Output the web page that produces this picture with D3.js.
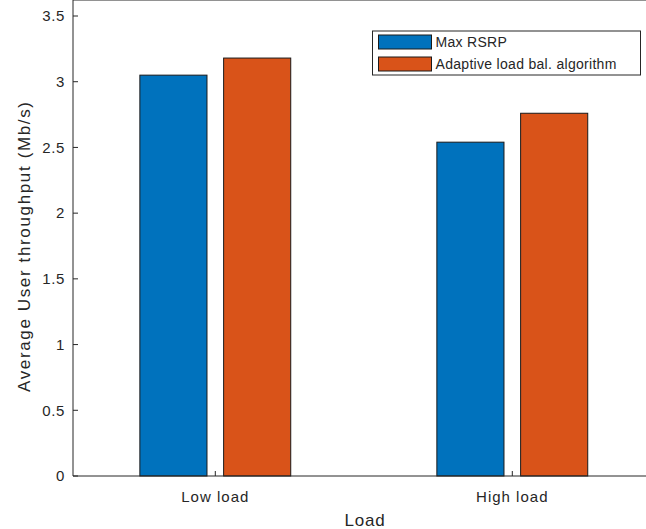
<!DOCTYPE html>
<html>
<head>
<meta charset="utf-8">
<script src="https://cdn.jsdelivr.net/npm/d3@7"></script>
<style>
  body { margin: 0; background: #fff; }
  text { font-family: "Liberation Sans", Arial, sans-serif; fill: #262626; }
</style>
</head>
<body>
<div id="chart"></div>
<script>
// data
var categories = ['Low load', 'High load']
var seriesNames = ['Max RSRP', 'Adaptive load bal. algorithm']
var maxRsrp = [3.05, 2.54]
var adaptive = [3.18, 2.76]
var yTicks = [0, 0.5, 1, 1.5, 2, 2.5, 3, 3.5]
var colors = ['#0072BD', '#D95319']

var width = 646, height = 529
var svg = d3.select('#chart').append('svg').attr('width', width).attr('height', height)

// axes geometry (x: category index 1..n)
var x = d3.scaleLinear().domain([1, 2]).range([215.3, 512.3])
var y = d3.scaleLinear().domain([0, 3.5]).range([476, 16])
var left = 73, right = x(2.48), top = y(3.5), bottom = y(0)

var barW = 0.226, offset = 0.141
var series = [maxRsrp, adaptive]

var g = svg.append('g')

series.forEach(function(vals, si){
  g.selectAll('rect.s' + si).data(vals).enter().append('rect')
    .attr('x', function(d, i){ return x(i + 1 + (si ? offset : -offset) - barW / 2) })
    .attr('width', x(1 + barW) - x(1))
    .attr('y', function(d){ return y(d) })
    .attr('height', function(d){ return y(0) - y(d) })
    .attr('fill', colors[si])
    .attr('stroke', '#1a1a1a').attr('stroke-width', 1)
})

// box
var ax = '#262626'
g.append('line').attr('x1', left).attr('x2', right).attr('y1', bottom).attr('y2', bottom).attr('stroke', ax)
g.append('line').attr('x1', left).attr('x2', right).attr('y1', top).attr('y2', top).attr('stroke', ax)
g.append('line').attr('x1', left).attr('x2', left).attr('y1', top).attr('y2', bottom).attr('stroke', ax)

// y ticks
yTicks.forEach(function(t){
  g.append('line').attr('x1', left).attr('x2', left + 5).attr('y1', y(t)).attr('y2', y(t)).attr('stroke', ax)
  g.append('text').attr('x', left - 8).attr('y', y(t)).attr('dy', '0.35em')
    .attr('text-anchor', 'end').style('font-size', '15px').style('letter-spacing', '0.6px').text(d3.format('')(t))
})

// x ticks
categories.forEach(function(c, i){
  var px = x(i + 1)
  g.append('line').attr('x1', px).attr('x2', px).attr('y1', bottom).attr('y2', bottom - 5).attr('stroke', ax)
  g.append('line').attr('x1', px).attr('x2', px).attr('y1', top).attr('y2', top + 5).attr('stroke', ax)
  g.append('text').attr('x', px).attr('y', bottom + 26)
    .attr('text-anchor', 'middle').style('font-size', '15px').style('letter-spacing', '1px').text(c)
})

// axis labels
svg.append('text').attr('x', 365).attr('y', 526).attr('text-anchor', 'middle')
  .style('font-size', '17px').style('letter-spacing', '0.8px').text('Load')
svg.append('text').attr('transform', 'translate(30,247) rotate(-90)').attr('text-anchor', 'middle')
  .style('font-size', '17px').attr('textLength', 290).attr('lengthAdjust', 'spacing')
  .text('Average User throughput (Mb/s)')

// legend
var lg = svg.append('g').attr('transform', 'translate(372.5,31)')
lg.append('rect').attr('width', 268).attr('height', 44).attr('fill', '#fff').attr('stroke', ax)
seriesNames.forEach(function(n, i){
  lg.append('rect').attr('x', 6).attr('y', 4 + i * 22).attr('width', 53).attr('height', 14)
    .attr('fill', colors[i]).attr('stroke', '#1a1a1a')
  lg.append('text').attr('x', 63).attr('y', 11 + i * 22).attr('dy', '0.35em')
    .style('font-size', '14px').style('letter-spacing', '0.3px').text(n)
})
</script>
</body>
</html>
